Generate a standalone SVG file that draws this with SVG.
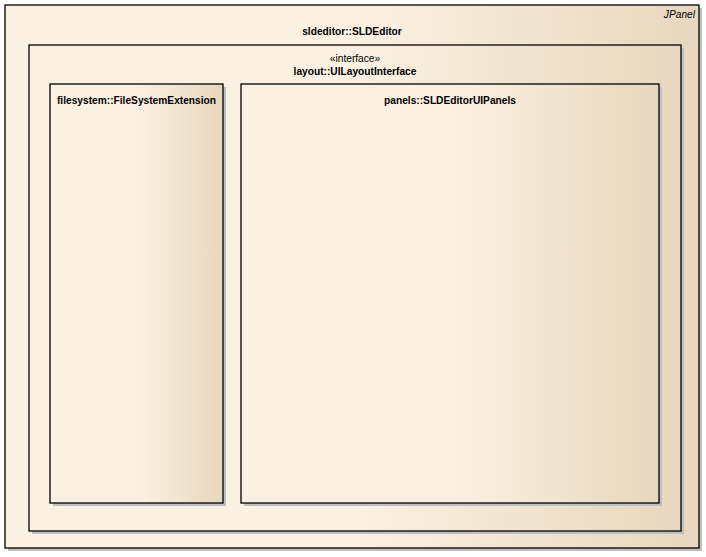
<svg xmlns="http://www.w3.org/2000/svg" width="706" height="557" viewBox="0 0 706 557">
<defs>
<linearGradient id="g" x1="0" y1="0" x2="1" y2="0">
<stop offset="0" stop-color="#FBF1E3"/>
<stop offset="0.5" stop-color="#FBF1E3"/>
<stop offset="1" stop-color="#E8D7BF"/>
</linearGradient>
<style>
.box{fill:url(#g);stroke:#000;stroke-width:1.3}
.sh{fill:#BFBFBF}
.t{font-family:"Liberation Sans",Arial,sans-serif;font-size:10.2px;fill:#000;text-anchor:middle}
.b{font-weight:bold}
</style>
</defs>
<rect width="706" height="557" fill="#fff"/>
<g id="sldeditor">
<rect class="sh" x="8" y="8" width="694" height="543"/>
<rect class="box" x="5" y="5" width="694" height="543"/>
<text class="t" x="695" y="18" style="text-anchor:end;font-style:italic">JPanel</text>
<text class="t b" x="352" y="35">sldeditor::SLDEditor</text>
</g>
<g id="layout">
<rect class="sh" x="32" y="48" width="652" height="486"/>
<rect class="box" x="29" y="45" width="652" height="486"/>
<text class="t" x="355" y="62">«interface»</text>
<text class="t b" x="355" y="75">layout::UILayoutInterface</text>
</g>
<g id="filesystem">
<rect class="sh" x="53" y="87" width="173" height="419"/>
<rect class="box" x="50" y="84" width="173" height="419"/>
<text class="t b" x="136.5" y="104">filesystem::FileSystemExtension</text>
</g>
<g id="panels">
<rect class="sh" x="244" y="87" width="418" height="419"/>
<rect class="box" x="241" y="84" width="418" height="419"/>
<text class="t b" x="450" y="104">panels::SLDEditorUIPanels</text>
</g>
<g id="connectors"/>
</svg>
